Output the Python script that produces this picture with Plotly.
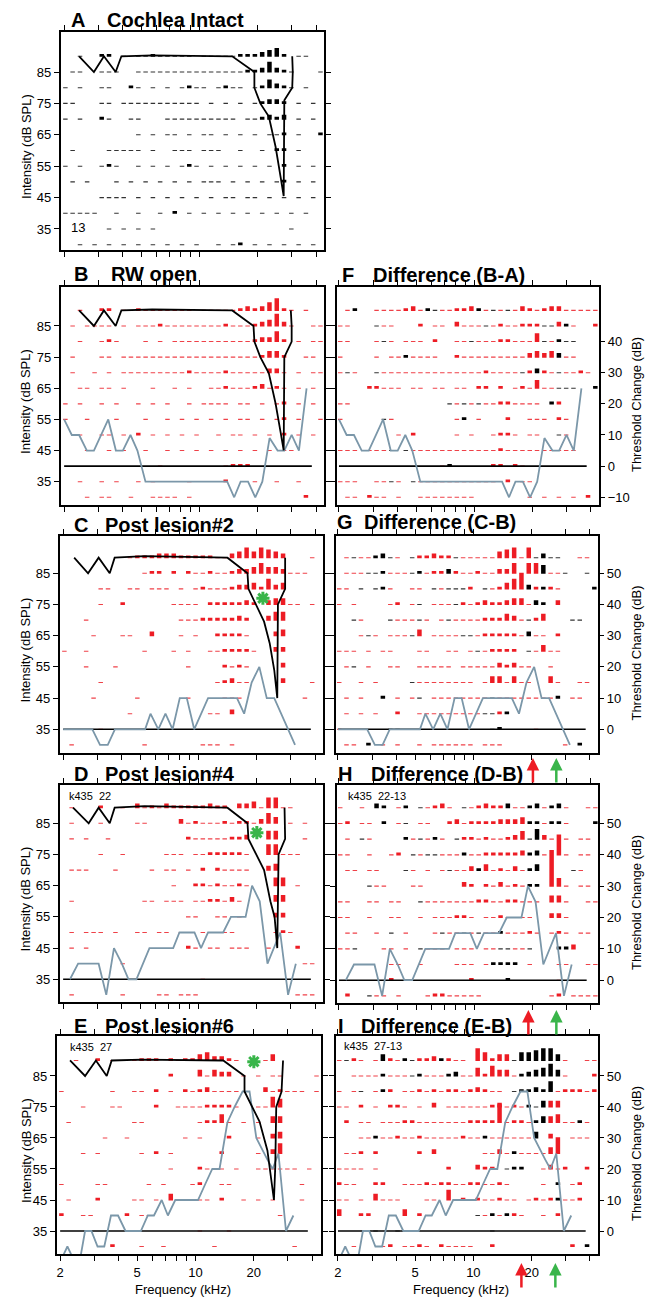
import plotly.graph_objects as go
import math

PAGE_OFF = 8          # browser default body margin
FIG_W, FIG_H = 646, 1290
RED = '#ed1c24'
RED_THIN = '#ef4148'
BLACK_THIN = '#333333'
GREEN = '#39b54a'
GREY = '#7b97a9'
FONT = 'Liberation Sans, Arial, sans-serif'

# ---------------- data ----------------
FREQS_KHZ = [2.0, 2.18, 2.38, 2.59, 2.83, 3.08, 3.36, 3.67, 4.0, 4.36, 4.76, 5.19,
             5.66, 6.17, 6.73, 7.34, 8.0, 8.72, 9.51, 10.37, 11.31, 12.34, 13.45, 14.67,
             16.0, 17.45, 19.03, 20.75, 22.63, 24.68, 26.91, 29.34, 32.0, 34.9, 38.05, 41.5]
LEVELS_DB = [90, 85, 80, 75, 70, 65, 60, 55, 50, 45, 40, 35, 30]

# raster codes: '.' none, '-' thin dash (panel colour), '_' thin black dash,
# '1'-'9','A'-'Z' panel-colour bar level, 'a'-'z' black bar level
RASTER_A = [
    "..-..|11.-.|--1--|---.-|----1|11234|1.--..",
    ".--..|---..|-----|-----|-----|11252|1-...-",
    "-.-..|--..1|-.-.-|.-1--|.-1--|.-142|1-.-..",
    "--...|--.--|-----|----.|-.-.-|.-122|1.-.-.",
    "-.-..|1-..-|-...-|-----|----.|--121|2.-.-.",
    ".....|.....|-.-.-|-.-.-|-.-.-|.-.--|1.-..1",
    ".-...|.----|-.-..|---.-|--..-|..-.1|1.-...",
    "-.-..|-1-..|-.-.-|.-1-.|-.-.-|.-.-.|1.-.-.",
    ".-.-.|..-.-|.-.-.|-.-.-|--.-.|-.-.-|1.-.-.",
    ".....|----.|-.-.-|.-.-.|-.--.|--.-.|-.-.-.",
    "-----|..-..|-..-.|1.-.-|.-.-.|-.-.-|.-.-..",
    ".....|.-.-.|-.-..|.....|.....|.....|.-....",
    "..-.-|.-.-.|-.-.-|.-.-.|.-.-1|.-.-.|-.-.-.",
]
RASTER_B = [
    "..-..|11.-.|1----|---.-|----1|21246|1-.-..",
    ".-.--|--.-.|---1-|-----|--1--|-1236|2-..--",
    "..-..|-1-..|.-.-.|-----|-----|-1225|1.-.--",
    ".-...|--.--|-----|-----|-----|--133|1..--.",
    ".-..-|.-.--|-----|--1--|--1--|---22|-.-.--",
    "..--.|--.-.|..-..|-.-..|--1--|-12-1|-.-.-.",
    "-.-..|-.-..|-.-.-|..-.-|---.-|-.-.-|1.-.-.",
    "-..-.|..-..|.-..-|.-.-.|-.-.-|-.-.-|1.-..-",
    "..-..|--.-.|1.-.-|.-.-.|.-.--|.-.-.|1.-.-.",
    "...-.|.-.-.|.-..-|.-.-.|-.-.-|.-.-.|--....",
    ".....|.....|...-.|.....|..-11|1....|......",
    "..-..|-.-..|-.-..|..-..|..1..|.-..-|..-...",
    "...-.|--..-|..---|-.-..|.....|.....|...1..",
]
RASTER_C = [
    ".....|....-|11122|21111|1--23|53543|2...-.",
    ".....|.....|.-11.|1.1--|1--12|23533|2---..",
    ".....|--..-|-.---|.-.-1|---12|23152|3.....",
    ".....|-..1.|.....|----.|11111|21.23|3--.-.",
    "...-.|.....|.....|.---1|11112|1..24|4.....",
    "....-|...--|..2..|.-.-.|.1111|-...2|3.....",
    "-..-.|.....|.-...|-.-..|--111|1-..2|2.....",
    "...-.|..-..|.....|..-..|..1-1|-....|2.....",
    ".....|-....|.....|.....|.-12-|-....|2...-.",
    "....-|.....|-....|..-..|..---|.....|...-..",
    ".....|....-|.....|.....|--.2.|.....|......",
    ".....|-....|.....|.....|.....|.....|......",
    ".-...|.....|.-...|....-|--.-.|.....|......",
]
RASTER_D = [
    ".-...|1..-.|2-1-2|11111|211.2|23-55|--....",
    ".-...|-....|--...|.2-1-|--1-1|1-253|.-.-..",
    ".-.-.|.-...|.....|..1--|---11|2..44|...-..",
    ".....|-..-.|....-|--.--|11111|-..55|---...",
    ".---.|..-..|..-.-|-.-.1|.1---|-..23|......",
    ".....|.....|.....|-..11|-1--1|-...4|4.-...",
    ".-...|.....|.--.-|--.--|11-2-|....3|3.....",
    ".....|.....|.....|..--.|.--.-|....2|2.....",
    ".-.--|-.-..|--.--|.--.-|----.|....-|1-....",
    ".-.-.|.....|.....|..1-.|--.--|-..-.|..1...",
    ".....|...-.|.....|.....|.....|.....|...--.",
    ".....|.....|.....|....-|.....|.....|......",
    ".-...|...-.|...--|.---.|.....|.....|..---.",
]
RASTER_E = [
    "..-..|1.--.|-111.|1-113|4221-|...-3|......",
    ".....|.....|.....|1...3|-322.|-.-.-|-....-",
    "-....|..-..|--.1.|-.1-1|2----|...2-|1---.-",
    "...-.|..--.|...1.|.----|1111-|..--5|4.....",
    ".-...|.....|--...|....-|114-.|-.-.3|3.....",
    ".....|.-..-|.....|..-.-|...1.|..-.2|3.....",
    "...-.|-....|.-.1.|-....|..1..|..-.2|5.....",
    ".....|.....|.....|-...1|-.-.-|..---|---.-.",
    "-....|--...|..-.-|...-1|..--.|.....|...-..",
    ".-...|1....|--.-.|3-..-|-.1..|-.-.-|...-..",
    "1..--|....1|.--..|.....|.....|.....|-.....",
    ".....|.....|.....|....-|...-.|.....|......",
    ".....|..1..|.-..-|.....|.-...|.....|..-...",
]
RASTER_F = [
    ".-a..|----1|2-a_-|-112a|-_-_-|21-12|2-----",
    "--...|_--..|.1.--|.2---|_-1--|111__|2a-..1",
    "--...|-_-.-|--.1.|.--_-|--11-|--4_-|a__...",
    "-....|-.--a|----.|.1---|-----|-2323|b--...",
    "-_-..|_----|-----|-----|1----|_1b1-|_--1-.",
    "....1|1---.|--.--|.--.1|1.1.-|1-4--|___..a",
    "--...|.....|.....|_-_-_|--11-|---.a|1.....",
    "-....|._-..|.....|.-a.-|...1.|.---.|1-....",
    ".....|...-.|1....|.-.-.|.-11-|.--..|_-....",
    "---.-|--_._|-----|-----|--1--|-----|---...",
    ".....|.....|....-|a....|.11.1|-....|......",
    "---..|--_-.|_----|-----|--.1.|--...|......",
    ".--.1|--.-.|.----|----.|.....|.-.-.|-.-.1.",
]
RASTER_G = [
    ".-_--|ab_-.|_1121|1_---|--345|-5_b_|_..--.",
    ".---_|_a---|_a-11|b1--1|--225|.55d-|-_.._.",
    "--._.|_a-..|--._-|___1.|_-135|8b1a1|-....a",
    "-.-..|..-1.|-_.--|-_1-1|21123|3-ba.|2.....",
    ".._-.|.._--|-_-.-|_----|11132|-_13.|..__..",
    "...-_|-.---|_3.--|--__-|11111|-b--.|1.....",
    "---.-|.--..|.--..|--.-_|-1111|._-3-|-.....",
    ".-_.-|..--.|.----|-.---|--212|--..-|......",
    "-..-.|-....|_----|----.|-33-3|--..3|-..--.",
    ".-.-.|.a.-.|-_.--|-----|-_---|-----|a.--..",
    ".-.-.|-..1.|.----|-----|__1a.|.....|......",
    "-....|..__.|.....|.....|._a..|..-..|......",
    ".--.a|.-.-.|.-.--|----.|---..|.....|.-.a..",
]
RASTER_H = [
    "-..-.|ba.-a|._-12|-._-1|211b-|-ab-a|b-..--",
    "-1.--|.a.-_|.--..|12-11|11222|3aa-a|a-...a",
    ".-._-|....a|-_-a-|._11-|1--12|4_e2-|.-.--.",
    "--..-|..-1.|_-__-|--a--|11111|2ab-.|A-.--.",
    ".--.-|-..._|-.-.-|_--2a|3-1-2|-ac..|.._-..",
    "...._|--...|--...|..21.|1-2-1|-aa.I|4-.--.",
    "--..-|-.--.|._---|----1|1--11|---.3|3-..--",
    "--..-|..--.|.-.--|-11-.|--1--|--..2|2-....",
    ".--..|-._.-|...-_|--_-_|--a--|-1-.-|1-.--.",
    "--_..|.--.-|._---|.---.|--__-|-_...|aa2...",
    ".....|..--.|.-...|.---.|-aaaa|.-...|--..--",
    ".....|..1..|.....|...1.|...a.|.....|-.....",
    ".1.._|--.-.|..-11|-----|.....|....-|1.----",
]
RASTER_I = [
    "-_1-.|-c1-a|_112a|1--.6|4133_|ddeff|c-..--",
    "..---|-a---|_a---|ab--4|1533-|abcdf|c-...1",
    "-.-_.|-a1.-|-1-1-|11-12|1--._|aabae|-111-1",
    "--.1.|-.11-|.-.2.|-----|-12-1|-a_c3|3.....",
    ".1.--|.---1|1----|---11|119-1|1-ac3|4--a-.",
    "...--|a--1-|-1---|--1--|a----|--c.2|..---.",
    ".--1.|1....|.1.2.|.....|--2-a|----3|8.....",
    "----.|-....|.....|1...2|11._a|a..-2|-1..1.",
    "1--..|11..-|--1-1|1--11|--1-.|...-.|a.-1..",
    "--.-.|3---.|..--.|5-1-1|--1--|.-1-1|a--1..",
    "3..11|....3|.1...|...._|-a-a1|-..-.|1.....",
    ".....|_.._.|.....|.....|._...|.....|......",
    "..-..|.-1.-|-1-.1|----.|.1...|.....|..1.a.",
]

# tuning curves (kHz, dB SPL)
TC_A_KHZ = [2.39, 2.85, 3.21, 3.69, 3.95, 5.7, 14.75, 19.2, 19.2, 20.6, 22.8, 24.7, 26.2, 27.2, 27.4, 30.1, 30.3, 30.1]
TC_A_DB = [90, 85, 90, 85, 90, 90.3, 90, 85, 80, 75, 70.8, 61.2, 51.7, 45.5, 76, 80, 85, 90]
TC_B_KHZ = [2.39, 2.85, 3.21, 3.69, 3.95, 5.7, 14.75, 19.0, 19.2, 20.6, 22.8, 24.7, 26.2, 27.2, 27.4, 29.9, 29.9, 29.6]
TC_B_DB = [90, 85, 90, 85, 90, 90.3, 90, 85, 80, 75, 69.8, 60.1, 51, 45.1, 75, 80, 85, 90]
TC_C_KHZ = [2.28, 2.69, 3.05, 3.48, 3.69, 5.26, 14.1, 17.9, 18.1, 19.8, 21.8, 23.3, 24.6, 25.5, 25.7, 28.0, 28.0, 28.0]
TC_C_DB = [90, 85, 90, 85, 90, 90.5, 90, 85, 80, 75, 69.5, 62.6, 54, 45, 75, 80, 85, 90]
TC_D_KHZ = [2.25, 2.71, 3.05, 3.48, 3.69, 5.26, 14.1, 17.9, 18.1, 19.8, 21.8, 23.5, 24.7, 25.5, 25.9, 28.0, 28.0, 27.8]
TC_D_DB = [90, 85, 90, 85, 90, 90.5, 90, 85, 80, 75, 70, 60, 55, 45, 75, 80, 85, 90]
TC_E_KHZ = [2.25, 2.69, 3.06, 3.48, 3.69, 5.28, 13.9, 17.9, 17.9, 21.4, 23.5, 25.4, 25.8, 26.1, 27.8, 28.3]
TC_E_DB = [90, 85, 90, 85, 90, 90.3, 90, 85, 80, 70.3, 61, 45, 55.7, 75, 80, 90]

# threshold change lines (kHz, dB change)
THR_BA_KHZ = [2.0, 2.19, 2.39, 2.62, 2.85, 3.38, 3.7, 4.02, 4.4, 4.78, 5.26, 13.9, 15.1, 16.3, 17.8, 19.4, 21.1, 23.0, 25.3, 27.4, 29.9, 32.6, 35.7]
THR_BA_DB = [15, 10, 10, 5, 5, 15, 5, 5, 10, 5, -5, -5, -10, -5, -5, -10, -5, 9, 5, 5, 10, 5, 25]
THR_CB_KHZ = [2.0, 2.83, 3.1, 3.4, 3.7, 5.3, 5.65, 6.2, 6.75, 7.35, 8.0, 8.7, 9.5, 11.2, 15.8, 17.2, 18.8, 20.6, 22.5, 24.6, 31.5]
THR_CB_DB = [0, 0, -5, -5, 0, 0, 5, 0, 5, 0, 10, 10, 0, 10, 10, 5, 15, 20, 10, 10, -5]
THR_DB_KHZ = [2.17, 2.39, 3.05, 3.34, 3.66, 4.02, 4.35, 4.78, 5.58, 7.4, 7.97, 9.53, 10.3, 11.2, 13.4, 14.7, 17.5, 18.9, 20.7, 22.7, 26.4, 29.0, 31.8]
THR_DB_DB = [0, 5, 5, -5, 10, 5, 0, 0, 10, 10, 15, 15, 10, 15, 15, 20, 20, 30, 25, 5, 15, -5, 5]
THR_EB_KHZ = [2.0, 2.18, 2.38, 2.52, 2.69, 2.9, 3.12, 3.38, 3.66, 3.98, 4.35, 5.22, 5.67, 6.1, 6.69, 7.2, 7.86, 10.3, 11.2, 12.2, 13.3, 14.6, 15.9, 17.5, 19.0, 20.6, 23.5, 25.0, 26.8, 29.3, 32.0]
THR_EB_DB = [-10, -5, -10, -10, 0, 0, -5, -5, 5, 5, 0, 0, 5, 5, 10, 5, 10, 10, 15, 20, 20, 35, 40, 45, 45, 30, 23, 20, 25, 0, 5]

ZERO_KHZ = [2.0, 38.0]

STAR_KHZ = {'C': 21.5, 'D': 20.0, 'E': 20.0}
STAR_DB = {'C': 77, 'D': 82, 'E': 89.6}

ARROW_PANEL = ['G', 'G', 'H', 'H', 'I', 'I']
ARROW_KHZ = [20.3, 26.8, 19.0, 26.5, 17.7, 26.5]
ARROW_COLOR = [RED, GREEN, RED, GREEN, RED, GREEN]

X_TICKS = [2, 3, 4, 5, 6, 7, 8, 9, 10, 20, 30, 40]
X_TICKTEXT = ['2', '', '', '5', '', '', '', '', '10', '20', '', '']
Y_TICKS = [35, 45, 55, 65, 75, 85]
THR_TICKS_F = [-10, 0, 10, 20, 30, 40]
THR_TICKS = [0, 10, 20, 30, 40, 50]

# ---------------- panel geometry (page pixels) ----------------
PANELS = [
    dict(key='A', title='Cochlea Intact', box=(59, 323, 32, 250), yr=(28.31, 97.74), raster=RASTER_A, main='black',
         tc=(TC_A_KHZ, TC_A_DB), side='L', tx=(67, 103)),
    dict(key='B', title='RW open', box=(59, 323, 287, 505), yr=(27.52, 97.52), raster=RASTER_B, main=RED,
         tc=(TC_B_KHZ, TC_B_DB), thr=(THR_BA_KHZ, THR_BA_DB), base=40, side='L', tx=(70, 107)),
    dict(key='C', title='Post lesion#2', box=(58, 322, 536, 753), yr=(27.40, 96.95), raster=RASTER_C, main=RED,
         tc=(TC_C_KHZ, TC_C_DB), thr=(THR_CB_KHZ, THR_CB_DB), base=35, side='L', tx=(70, 101)),
    dict(key='D', title='Post lesion#4', box=(58, 322, 785, 1002), yr=(27.72, 97.28), raster=RASTER_D, main=RED,
         tc=(TC_D_KHZ, TC_D_DB), thr=(THR_DB_KHZ, THR_DB_DB), base=35, side='L', tx=(70, 101)),
    dict(key='E', title='Post lesion#6', box=(55, 320, 1036, 1254), yr=(27.58, 97.9), raster=RASTER_E, main=RED,
         tc=(TC_E_KHZ, TC_E_DB), thr=(THR_EB_KHZ, THR_EB_DB), base=35, side='L', tx=(70, 101)),
    dict(key='F', title='Difference (B-A)', box=(336, 599, 287, 505), yr=(27.52, 97.52), raster=RASTER_F, main=RED,
         thr=(THR_BA_KHZ, THR_BA_DB), base=40, side='R', tx=(339, 370), rticks=THR_TICKS_F),
    dict(key='G', title='Difference (C-B)', box=(335, 598, 536, 753), yr=(27.40, 96.95), raster=RASTER_G, main=RED,
         thr=(THR_CB_KHZ, THR_CB_DB), base=35, side='R', tx=(334, 361), rticks=THR_TICKS),
    dict(key='H', title='Difference (D-B)', box=(336, 598, 785, 1003), yr=(27.72, 97.28), raster=RASTER_H, main=RED,
         thr=(THR_DB_KHZ, THR_DB_DB), base=35, side='R', tx=(335, 368), rticks=THR_TICKS),
    dict(key='I', title='Difference (E-B)', box=(335, 598, 1036, 1254), yr=(27.58, 97.9), raster=RASTER_I, main=RED,
         thr=(THR_EB_KHZ, THR_EB_DB), base=35, side='R', tx=(335, 358), rticks=THR_TICKS),
]
TITLE_Y = {'A': 20, 'B': 274, 'C': 525, 'D': 774, 'E': 1026, 'F': 275, 'G': 522, 'H': 774, 'I': 1026}
BOTTOM = {'E', 'I'}

DECADE_PX = 194.3
BAR_SHIFT = 1.015
BAR_W = 4.5


def px_x(px):
    return (px - PAGE_OFF) / FIG_W


def px_y(py):
    return 1 - (py - PAGE_OFF) / FIG_H


def level(ch):
    if ch == '-':
        return 0, 'main'
    if ch == '_':
        return 0, 'black'
    if ch.isdigit():
        return int(ch), 'main'
    if 'A' <= ch <= 'Z':
        return 10 + ord(ch) - 65, 'main'
    if 'a' <= ch <= 'z':
        return ord(ch) - 96, 'black'
    return None, None


fig = go.Figure()
layout = dict(width=FIG_W, height=FIG_H, margin=dict(l=0, r=0, t=0, b=0), autosize=False,
              paper_bgcolor='white', plot_bgcolor='white', showlegend=False,
              font=dict(family=FONT, size=13, color='black'))
annotations = []
overlay_idx = 10
axis_of = {}

for i, p in enumerate(PANELS, start=1):
    l, r, t, b = p['box']
    y0r, y1r = p['yr']
    ppd = (b - t) / (y1r - y0r)
    xname = 'x' if i == 1 else 'x%d' % i
    yname = 'y' if i == 1 else 'y%d' % i
    xkey = 'xaxis' if i == 1 else 'xaxis%d' % i
    ykey = 'yaxis' if i == 1 else 'yaxis%d' % i
    off = 3.3 if p['side'] == 'L' else 2.0
    xl = math.log10(2) - off / DECADE_PX
    xr = xl + (r - l) / DECADE_PX
    layout[xkey] = dict(type='log', range=[xl, xr], domain=[px_x(l), px_x(r)], anchor=yname,
                        showline=True, linecolor='black', linewidth=2, mirror='ticks',
                        ticks='outside', ticklen=5, tickwidth=1, tickcolor='black',
                        tickvals=X_TICKS, ticktext=X_TICKTEXT, showgrid=False, zeroline=False,
                        showticklabels=p['key'] in BOTTOM, tickfont=dict(size=13, family=FONT))
    ya = dict(range=[y0r, y1r], domain=[px_y(b), px_y(t)], anchor=xname,
              showline=True, linecolor='black', linewidth=2,
              ticks='outside', ticklen=5, tickwidth=1, tickcolor='black',
              tickvals=Y_TICKS, showgrid=False, zeroline=False, tickfont=dict(size=13, family=FONT))
    if p['side'] == 'L':
        ya['mirror'] = 'ticks'
    else:
        ya['showticklabels'] = False
    layout[ykey] = ya

    thr_y = yname
    if p['side'] == 'R':
        okey = 'yaxis%d' % overlay_idx
        oname = 'y%d' % overlay_idx
        base = p['base']
        layout[okey] = dict(range=[y0r - base, y1r - base], overlaying=yname, anchor=xname, side='right',
                            showline=True, linecolor='black', linewidth=2, ticks='outside', ticklen=4,
                            tickwidth=1, tickcolor='black', tickvals=p['rticks'], showgrid=False, zeroline=False,
                            tickfont=dict(size=13, family=FONT))
        thr_y = oname
        overlay_idx += 1
    axis_of[p['key']] = (xname, yname, thr_y)

    # raster bars: thin dashes and count bars, per colour
    segs = {}
    for ri, row in enumerate(p['raster']):
        s = (row.replace('|', '') + '.' * 36)[:36]
        db = LEVELS_DB[ri]
        for k, ch in enumerate(s):
            lv, col = level(ch)
            if lv is None:
                continue
            if lv == 0:
                hpx = 1.1
                c = (BLACK_THIN if (col == 'black' or p['main'] == 'black') else RED_THIN)
            else:
                hpx = 2.0 * lv + 0.8
                c = p['main'] if col == 'main' else 'black'
            ya0 = db - 0.55 / ppd
            ya1 = ya0 + hpx / ppd
            f = FREQS_KHZ[k] * BAR_SHIFT
            xs, ys = segs.setdefault(c, ([], []))
            xs.extend([f, f, None])
            ys.extend([ya0, ya1, None])
    for c, (xs, ys) in segs.items():
        fig.add_trace(go.Scatter(x=xs, y=ys, mode='lines', line=dict(color=c, width=BAR_W),
                                 xaxis=xname, yaxis=yname, hoverinfo='skip'))

    # threshold change line + zero line
    if 'thr' in p:
        fk, fd = p['thr']
        if p['side'] == 'L':
            yy = [v + p['base'] for v in fd]
            zy = [p['base']] * len(ZERO_KHZ)
        else:
            yy = list(fd)
            zy = [0] * len(ZERO_KHZ)
        fig.add_trace(go.Scatter(x=ZERO_KHZ, y=zy, mode='lines', line=dict(color='black', width=1.6),
                                 xaxis=xname, yaxis=thr_y, hoverinfo='skip'))
        fig.add_trace(go.Scatter(x=fk, y=yy, mode='lines', line=dict(color=GREY, width=1.8),
                                 xaxis=xname, yaxis=thr_y, hoverinfo='skip'))
    # tuning curve
    if 'tc' in p:
        fig.add_trace(go.Scatter(x=p['tc'][0], y=p['tc'][1], mode='lines', line=dict(color='black', width=1.8),
                                 xaxis=xname, yaxis=yname, hoverinfo='skip'))
    if p['key'] in STAR_KHZ:
        fig.add_trace(go.Scatter(x=[STAR_KHZ[p['key']]], y=[STAR_DB[p['key']]], mode='markers',
                                 marker=dict(symbol='asterisk-open', size=11, color=GREEN,
                                             line=dict(color=GREEN, width=3)),
                                 xaxis=xname, yaxis=yname, hoverinfo='skip'))

    # titles
    ty = TITLE_Y[p['key']]
    annotations.append(dict(text='<b>%s</b>' % p['key'], x=px_x(p['tx'][0]), y=px_y(ty), xref='paper', yref='paper',
                            xanchor='left', yanchor='middle', showarrow=False, font=dict(size=20, family=FONT)))
    annotations.append(dict(text='<b>%s</b>' % p['title'], x=px_x(p['tx'][1]), y=px_y(ty), xref='paper',
                            yref='paper', xanchor='left', yanchor='middle', showarrow=False,
                            font=dict(size=20, family=FONT)))
    # axis titles
    if p['side'] == 'L':
        annotations.append(dict(text='Intensity (dB SPL)', x=px_x(24), y=px_y((t + b) / 2 + 5), xref='paper',
                                yref='paper', textangle=-90, showarrow=False, xanchor='center', yanchor='middle',
                                font=dict(size=13, family=FONT)))
    else:
        annotations.append(dict(text='Threshold Change (dB)', x=px_x(636), y=px_y((t + b) / 2 + 9), xref='paper',
                                yref='paper', textangle=-90, showarrow=False, xanchor='center', yanchor='middle',
                                font=dict(size=13, family=FONT)))

# x-axis titles
for cx in (182, 460):
    annotations.append(dict(text='Frequency (kHz)', x=px_x(cx), y=px_y(1289), xref='paper', yref='paper',
                            showarrow=False, xanchor='center', yanchor='middle', font=dict(size=13, family=FONT)))

# small labels
for txt, x, y, anchor in [('13', 76, 228, 'center'), ('k435  22', 65, 796, 'left'), ('k435  27', 66, 1047, 'left'),
                          ('k435  22-13', 345, 796, 'left'), ('k435  27-13', 341, 1046, 'left')]:
    annotations.append(dict(text=txt, x=px_x(x), y=px_y(y), xref='paper', yref='paper', showarrow=False,
                            xanchor=anchor, yanchor='middle', font=dict(size=11 if 'k' in txt else 13, family=FONT)))

# arrows
ARROW_HEAD_Y = {'G': 758, 'H': 1010, 'I': 1263}
for pk, fk, c in zip(ARROW_PANEL, ARROW_KHZ, ARROW_COLOR):
    xname = axis_of[pk][0]
    annotations.append(dict(text='', x=math.log10(fk), y=px_y(ARROW_HEAD_Y[pk]), xref=xname, yref='paper',
                            showarrow=True, ax=0, ay=26, arrowhead=2, arrowsize=1.0, arrowwidth=2.5,
                            arrowcolor=c, standoff=0))

layout['annotations'] = annotations
fig.update_layout(**layout)
fig.write_html('out.html')
